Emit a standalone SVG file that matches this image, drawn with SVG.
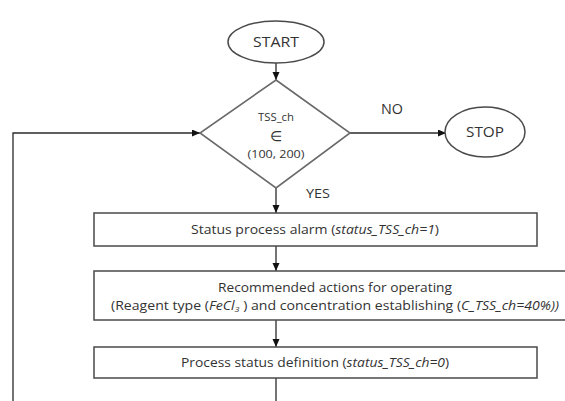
<svg xmlns="http://www.w3.org/2000/svg" width="565" height="401" viewBox="0 0 565 401">
<style>
.shape{fill:#fff;stroke:#4a4a4a;stroke-width:1.5}
.dia{fill:#fff;stroke:#6a6a6a;stroke-width:1.6}
.conn{fill:none;stroke:#2a2a2a;stroke-width:1.3}
.t{font-family:"Open Sans","Liberation Sans",Arial,sans-serif;fill:#333;text-anchor:middle}
.i{font-style:italic}
</style>
<defs>
<marker id="arr" markerUnits="userSpaceOnUse" markerWidth="9" markerHeight="8" refX="8" refY="3.5" orient="auto">
<path d="M0,0 L8,3.5 L0,7 z" fill="#111"/>
</marker>
</defs>
<rect width="565" height="401" fill="#fff"/>
<g id="connectors">
<path class="conn" d="M276,63 V80" marker-end="url(#arr)"/>
<path class="conn" d="M350,133 H446" marker-end="url(#arr)"/>
<path class="conn" d="M276,188 V213" marker-end="url(#arr)"/>
<path class="conn" d="M276,246 V271" marker-end="url(#arr)"/>
<path class="conn" d="M276,320 V347" marker-end="url(#arr)"/>
<path class="conn" d="M276,378 V405"/>
<path class="conn" d="M13,405 V133 H200" marker-end="url(#arr)"/>
</g>
<g id="start">
<ellipse class="shape" cx="276" cy="42" rx="48" ry="21"/>
<text class="t" x="276" y="47" font-size="14" textLength="46" lengthAdjust="spacingAndGlyphs">START</text>
</g>
<g id="decision">
<polygon class="dia" points="276,80 350,133 276,188 200,133"/>
<text class="t" x="276" y="121" font-size="10" textLength="36" lengthAdjust="spacingAndGlyphs">TSS_ch</text>
<text class="t" x="276" y="141" font-size="14">∈</text>
<text class="t" x="276" y="158" font-size="11" textLength="57" lengthAdjust="spacingAndGlyphs">(100, 200)</text>
</g>
<g id="label-no">
<text class="t" x="392" y="114" font-size="14" textLength="22" lengthAdjust="spacingAndGlyphs">NO</text>
</g>
<g id="label-yes">
<text class="t" x="318" y="198" font-size="13" textLength="24" lengthAdjust="spacingAndGlyphs">YES</text>
</g>
<g id="stop">
<ellipse class="shape" cx="485" cy="132" rx="40" ry="25"/>
<text class="t" x="485" y="137" font-size="14" textLength="38" lengthAdjust="spacingAndGlyphs">STOP</text>
</g>
<g id="alarm">
<rect class="shape" x="94" y="213" width="443" height="33"/>
<text class="t" x="315" y="234" font-size="12.5" textLength="248" lengthAdjust="spacingAndGlyphs">Status process alarm (<tspan class="i">status_TSS_ch=1</tspan>)</text>
</g>
<g id="actions">
<rect class="shape" x="94" y="271" width="480" height="49"/>
<text class="t" x="335" y="292" font-size="12.5" textLength="234" lengthAdjust="spacingAndGlyphs">Recommended actions for operating</text>
<text class="t" x="335" y="310" font-size="12.5" textLength="448" lengthAdjust="spacingAndGlyphs">(Reagent type (<tspan class="i">FeCl</tspan><tspan class="i" font-size="8" dy="2">3</tspan><tspan dy="-2"> ) and concentration establishing (</tspan><tspan class="i">C_TSS_ch=40%))</tspan></text>
</g>
<g id="status-def">
<rect class="shape" x="94" y="347" width="443" height="31"/>
<text class="t" x="315" y="367" font-size="12.5" textLength="268" lengthAdjust="spacingAndGlyphs">Process status definition (<tspan class="i">status_TSS_ch=0</tspan>)</text>
</g>
</svg>
